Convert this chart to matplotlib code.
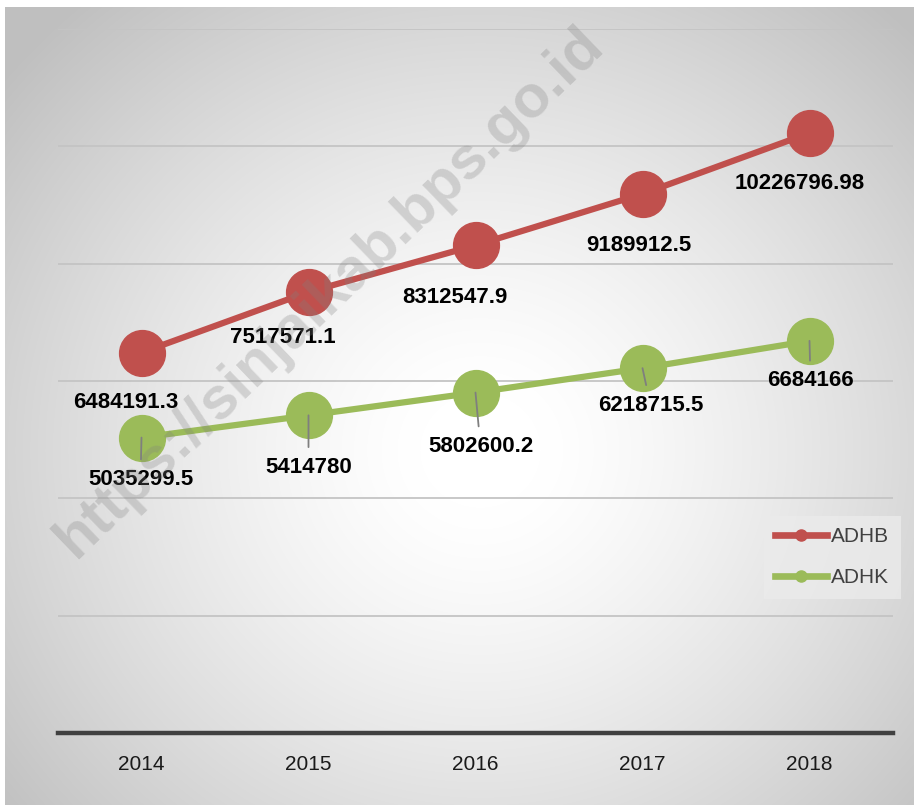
import numpy as np
import matplotlib
matplotlib.use('Agg')
import matplotlib.pyplot as plt
from matplotlib.lines import Line2D

plt.rcParams['font.family'] = ['Liberation Sans', 'DejaVu Sans']

years = ['2014', '2015', '2016', '2017', '2018']
adhb = [6484191.3, 7517571.1, 8312547.9, 9189912.5, 10226796.98]
adhk = [5035299.5, 5414780, 5802600.2, 6218715.5, 6684166]
adhb_labels = ['6484191.3', '7517571.1', '8312547.9', '9189912.5', '10226796.98']
adhk_labels = ['5035299.5', '5414780', '5802600.2', '6218715.5', '6684166']

# label offsets (pixels, dx right, dy down)
adhb_off = [(-16, 50), (-26, 46), (-21, 52), (-4, 52), (-10, 50)]
adhk_off = [(-1, 42), (0, 52), (5, 54), (8, 37), (1, 40)]

RED = '#C0504D'
GREEN = '#9BBB59'

W, H = 914, 807
fig = plt.figure(figsize=(W / 100, H / 100), dpi=100)
fig.patch.set_facecolor('white')

# gradient background panel
px0, py0, px1, py1 = 5, 7, 914, 805
bg = fig.add_axes([px0 / W, (H - py1) / H, (px1 - px0) / W, (py1 - py0) / H])
bg.set_axis_off()
hh, ww = py1 - py0, px1 - px0
yy, xx = np.mgrid[0:hh, 0:ww]
cx, cy = 480 - px0, 450 - py0
r = np.hypot(xx - cx, (yy - cy) * 1.05)
t = np.clip((r - 60) / 560, 0, 1) ** 1.3
c = (255 - 64 * t) / 255.0
img = np.dstack([c, c, c])
bg.imshow(img, aspect='auto', extent=[0, 1, 0, 1], interpolation='bilinear')
bg.set_xlim(0, 1)
bg.set_ylim(0, 1)

left, right, top, bottom = 58, 893, 29, 733
ax = fig.add_axes([left / W, (H - bottom) / H, (right - left) / W, (bottom - top) / H])
ax.set_facecolor('none')
x = np.arange(len(years))

ax.set_xlim(-0.5, len(years) - 0.5)
ax.set_ylim(0, 12000000)
ax.set_yticks(np.arange(0, 12000001, 2000000))
ax.yaxis.grid(True, color='#c4c4c4', lw=1.3)
ax.set_axisbelow(True)
ax.tick_params(axis='y', left=False, labelleft=False)
ax.set_xticks(x)
ax.set_xticklabels(years, fontsize=15, color='#1a1a1a')
ax.tick_params(axis='x', length=0, pad=16)
for s in ['top', 'left', 'right']:
    ax.spines[s].set_visible(False)
ax.spines['bottom'].set_color('#404040')
ax.spines['bottom'].set_linewidth(3.2)
ax.spines['bottom'].set_zorder(5)

ax.plot(x, adhb, color=RED, lw=4.5, marker='o', ms=33, zorder=3)
ax.plot(x, adhk, color=GREEN, lw=4.5, marker='o', ms=33, zorder=3)

for i, (v, lab) in enumerate(zip(adhb, adhb_labels)):
    dx, dy = adhb_off[i]
    ax.annotate(lab, xy=(x[i], v), xytext=(dx, -dy), textcoords='offset pixels',
                ha='center', va='center', fontsize=16, fontweight='bold',
                color='black', zorder=4)

for i, (v, lab) in enumerate(zip(adhk, adhk_labels)):
    dx, dy = adhk_off[i]
    ax.annotate(lab, xy=(x[i], v), xytext=(dx, -dy), textcoords='offset pixels',
                ha='center', va='center', fontsize=16, fontweight='bold',
                color='black', zorder=4,
                arrowprops=dict(arrowstyle='-', color='#7f7f7f', lw=1.3,
                                shrinkA=5, shrinkB=0))

handles = [Line2D([0], [0], color=RED, lw=4.8, marker='o', ms=8),
           Line2D([0], [0], color=GREEN, lw=4.8, marker='o', ms=8)]
leg = fig.legend(handles, ['ADHB', 'ADHK'], loc='upper right',
                 bbox_to_anchor=(901 / W, 1 - 516 / H), bbox_transform=fig.transFigure,
                 frameon=True, fancybox=False, fontsize=15, handlelength=2.5,
                 handletextpad=0.2, labelspacing=1.05, borderpad=0.55,
                 borderaxespad=0)
leg.get_frame().set_facecolor('#ebebeb')
leg.get_frame().set_edgecolor('none')
for txt in leg.get_texts():
    txt.set_color('#404040')

fig.text(330 / W, 1 - 292 / H, 'https://sinjaikab.bps.go.id', rotation=44,
         rotation_mode='anchor', ha='center', va='center', fontsize=43,
         fontweight='bold', color='#808080', alpha=0.28, zorder=10)

fig.savefig('out.png', dpi=100)
